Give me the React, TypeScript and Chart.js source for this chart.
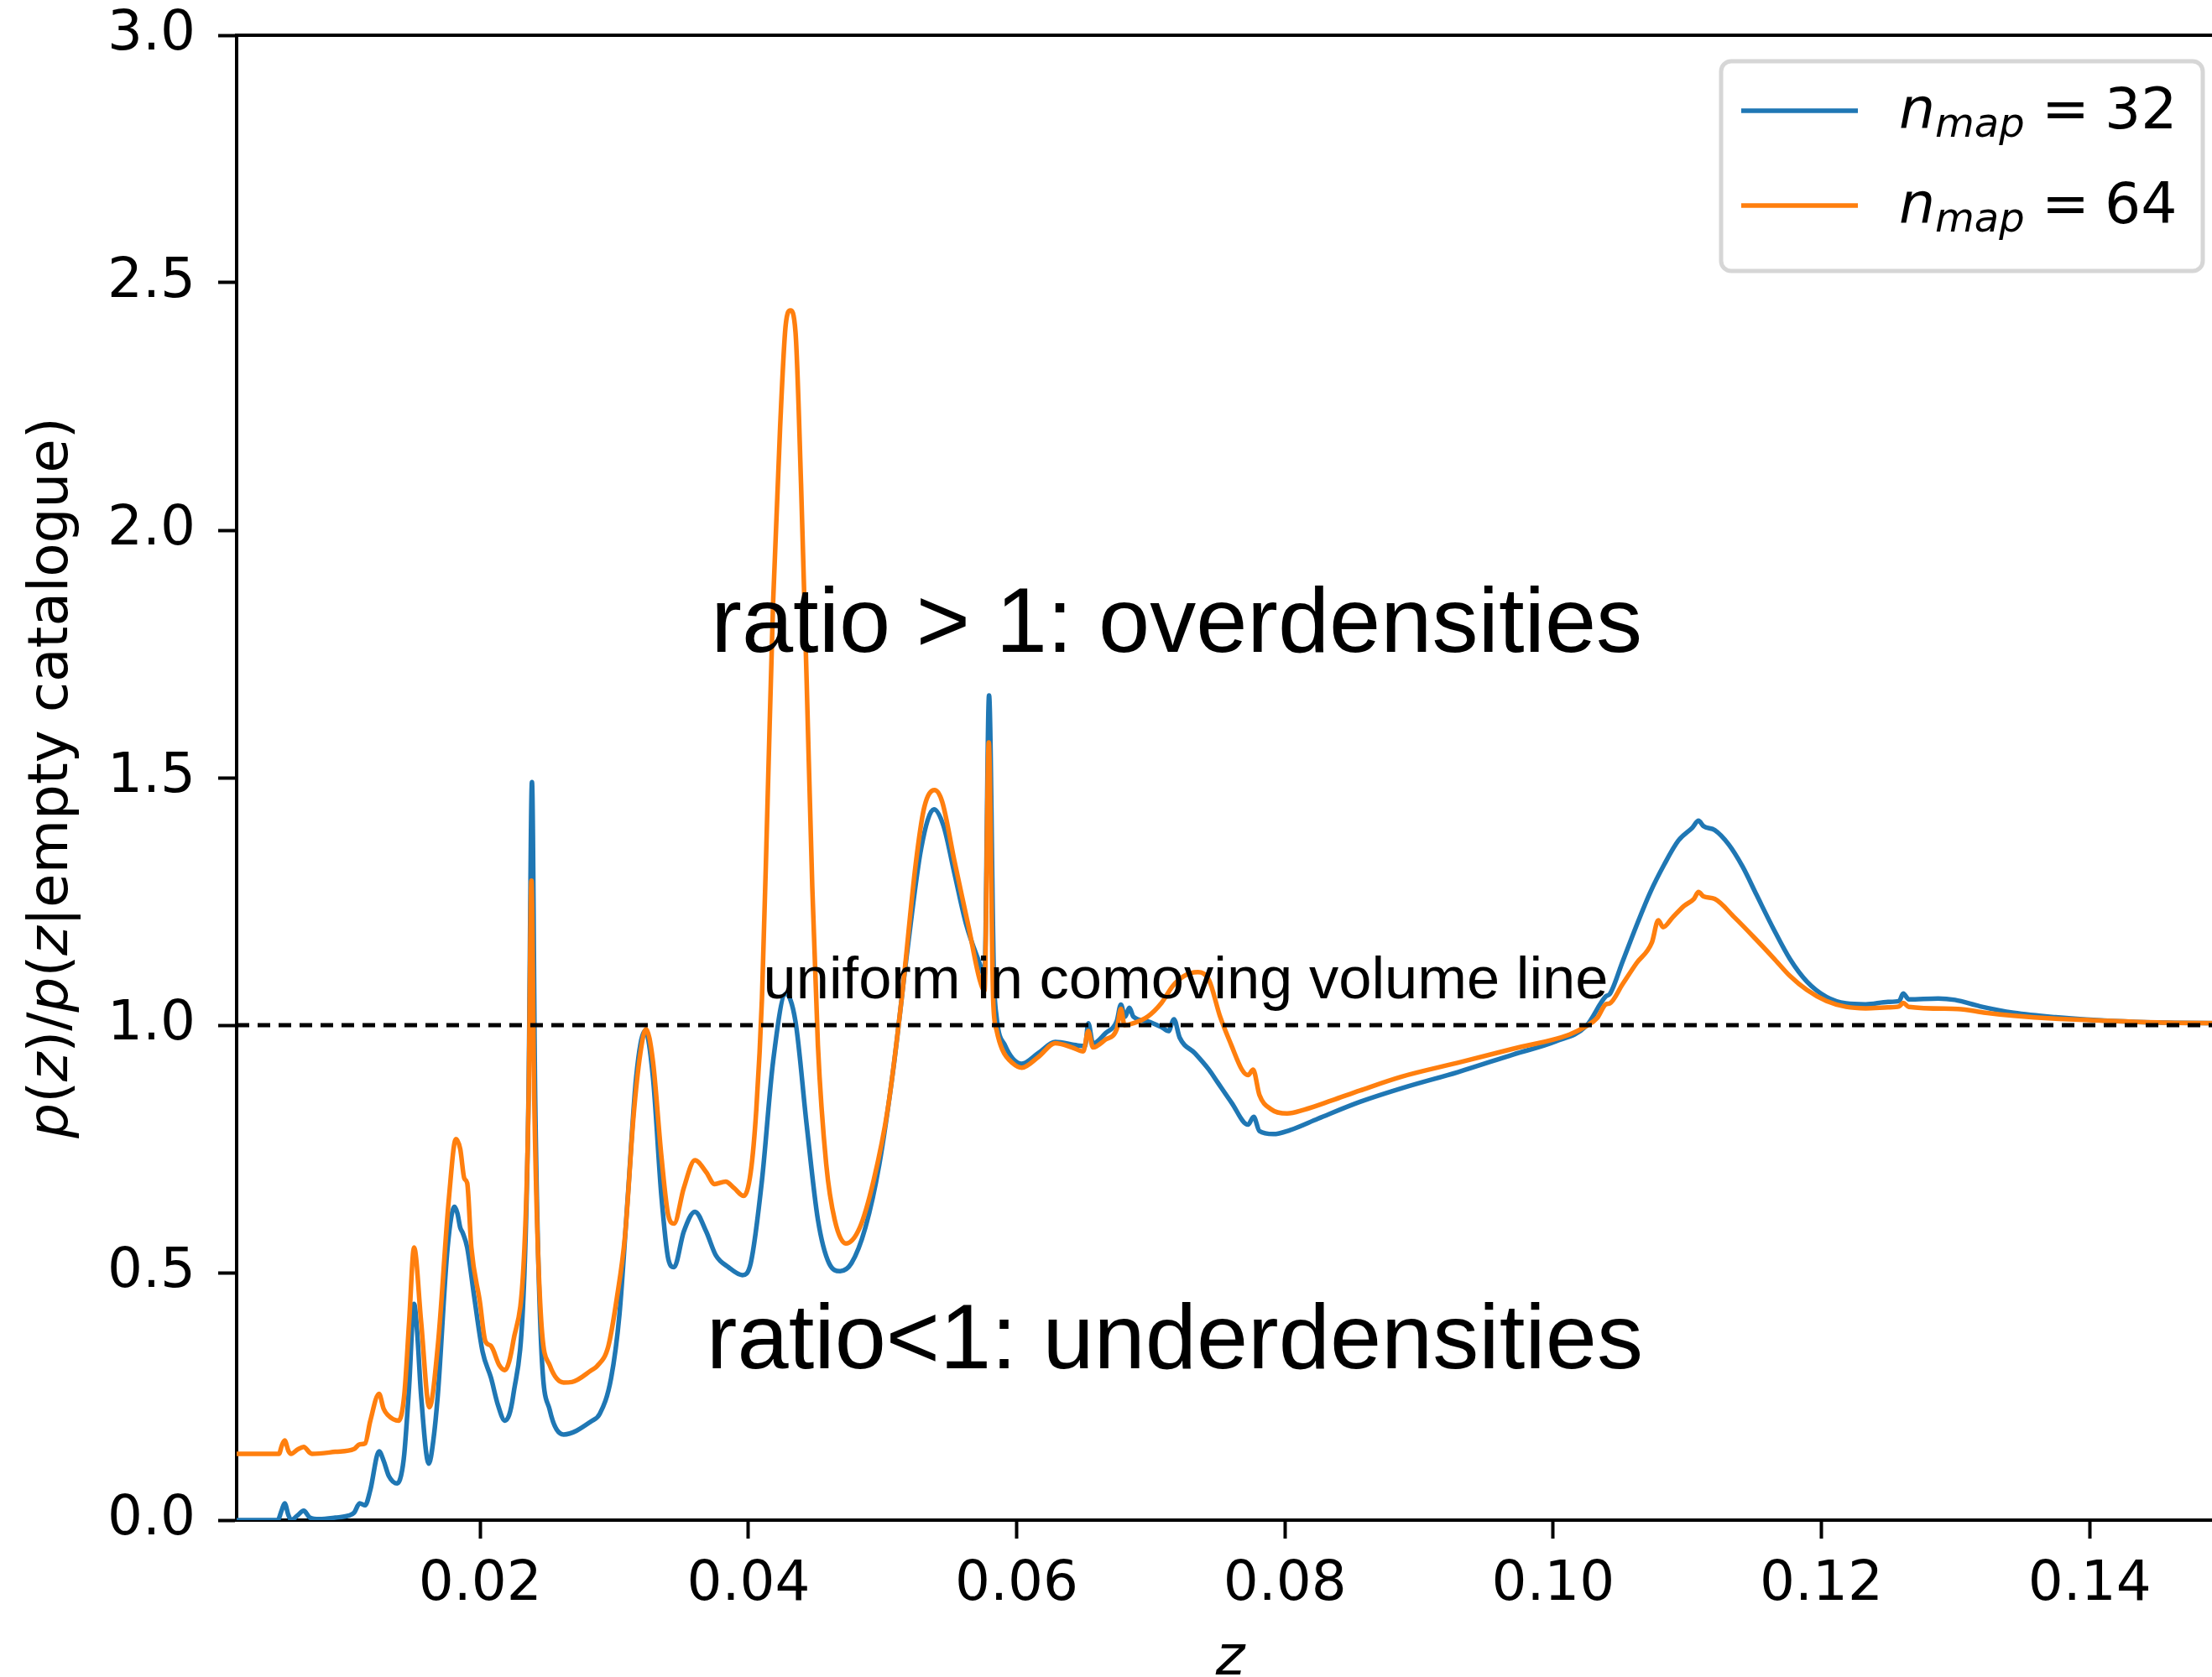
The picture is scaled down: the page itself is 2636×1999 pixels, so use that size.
import React, { useEffect, useRef } from 'react';
import { Chart, registerables } from 'chart.js';

Chart.register(...registerables);

// ---- axis limits and ticks ----
const zMin = 0.00184;
const zMax = 0.15;
const xTickValues = [0.02, 0.04, 0.06, 0.08, 0.1, 0.12, 0.14];
const yTickValues = [0, 0.5, 1.0, 1.5, 2.0, 2.5, 3.0];
const uniformLevel = 1.0;

// ---- series: n_map = 32 (blue) ----
const zBlue = [
  0.00184, 0.0049, 0.0052, 0.00542, 0.0057, 0.0059, 0.0064, 0.00684, 0.0073, 0.008,
  0.0092, 0.01017, 0.0106, 0.01101, 0.01142, 0.0118, 0.01246, 0.0128, 0.01319, 0.01382,
  0.0141, 0.01434, 0.0147, 0.01507, 0.0153, 0.01559, 0.01617, 0.0165, 0.01684, 0.01757,
  0.01809, 0.0183, 0.01851, 0.0187, 0.01903, 0.01955, 0.02018, 0.0208, 0.02132, 0.02184,
  0.02247, 0.0233, 0.0236, 0.02386, 0.0241, 0.02455, 0.02518, 0.02622, 0.0283, 0.02892,
  0.02976, 0.03038, 0.03101, 0.03163, 0.0323, 0.03288, 0.03351, 0.03403, 0.03445, 0.03518,
  0.03601, 0.03685, 0.03757, 0.03851, 0.03955, 0.04017, 0.04101, 0.04184, 0.04278, 0.04351,
  0.04434, 0.04518, 0.04601, 0.04684, 0.04768, 0.04872, 0.04976, 0.0508, 0.05185, 0.05289,
  0.05383, 0.05454, 0.05538, 0.05621, 0.05725, 0.0576, 0.05794, 0.0583, 0.0585, 0.05913,
  0.06038, 0.06163, 0.06288, 0.06454, 0.0651, 0.06534, 0.06569, 0.06663, 0.06746, 0.06777,
  0.06808, 0.0684, 0.06871, 0.06975, 0.0708, 0.07132, 0.07173, 0.07215, 0.0733, 0.07434,
  0.07497, 0.07601, 0.07725, 0.07767, 0.0781, 0.07913, 0.08038, 0.08246, 0.0856, 0.08913,
  0.09288, 0.09705, 0.10017, 0.10246, 0.10392, 0.10423, 0.10517, 0.10621, 0.10725, 0.10829,
  0.10934, 0.11038, 0.11084, 0.11121, 0.11205, 0.11309, 0.11413, 0.11517, 0.11642, 0.11767,
  0.11892, 0.12038, 0.12184, 0.1233, 0.12497, 0.1258, 0.1261, 0.12652, 0.12871, 0.12996,
  0.13184, 0.13434, 0.13746, 0.14163, 0.1458, 0.15,
];
const ratioBlue = [
  0.0, 0.0, 0.02, 0.034, 0.01, 0.0, 0.01, 0.019, 0.005, 0.002,
  0.005, 0.009, 0.015, 0.034, 0.03, 0.06, 0.139, 0.12, 0.089, 0.074,
  0.09, 0.134, 0.27, 0.437, 0.38, 0.253, 0.114, 0.16, 0.253, 0.551,
  0.633, 0.62, 0.591, 0.58, 0.551, 0.452, 0.34, 0.288, 0.233, 0.201,
  0.253, 0.5015, 0.85, 1.491, 0.85, 0.352, 0.223, 0.173, 0.2, 0.215,
  0.287, 0.415, 0.655, 0.895, 0.989, 0.895, 0.655, 0.527, 0.511, 0.583,
  0.623, 0.583, 0.535, 0.511, 0.495, 0.519, 0.687, 0.927, 1.063, 1.007,
  0.799, 0.607, 0.519, 0.503, 0.519, 0.591, 0.719, 0.911, 1.151, 1.359,
  1.436, 1.403, 1.304, 1.206, 1.124, 1.1, 1.666, 1.1, 1.017, 0.959,
  0.922, 0.944, 0.966, 0.959, 0.958, 1.004, 0.963, 0.984, 1.008, 1.0415,
  1.017, 1.035, 1.017, 1.008, 0.996, 0.988, 1.012, 0.975, 0.943, 0.91,
  0.885, 0.844, 0.799, 0.815, 0.786, 0.78, 0.788, 0.811, 0.845, 0.876,
  0.905, 0.941, 0.967, 0.998, 1.058, 1.063, 1.128, 1.201, 1.269, 1.325,
  1.373, 1.399, 1.413, 1.402, 1.394, 1.365, 1.32, 1.263, 1.195, 1.133,
  1.088, 1.057, 1.044, 1.042, 1.047, 1.049, 1.064, 1.052, 1.054, 1.051,
  1.038, 1.025, 1.016, 1.0085, 1.005, 1.004,
];

// ---- series: n_map = 64 (orange) ----
const zOrange = [
  0.00184, 0.005, 0.0052, 0.00542, 0.0057, 0.0059, 0.0064, 0.00684, 0.0073, 0.00746,
  0.0092, 0.01059, 0.01101, 0.01142, 0.0118, 0.01246, 0.0128, 0.01309, 0.01392, 0.01434,
  0.0147, 0.01507, 0.01559, 0.01621, 0.01684, 0.01767, 0.01819, 0.01851, 0.01882, 0.01903,
  0.01934, 0.01997, 0.02038, 0.0208, 0.02143, 0.02184, 0.02247, 0.0233, 0.02361, 0.02382,
  0.02403, 0.02455, 0.02518, 0.02622, 0.02684, 0.0283, 0.02871, 0.02955, 0.03018, 0.0308,
  0.03143, 0.03194, 0.03236, 0.03288, 0.03351, 0.03403, 0.03445, 0.03518, 0.03601, 0.03685,
  0.03747, 0.0383, 0.03893, 0.03965, 0.04017, 0.04059, 0.04101, 0.04143, 0.04184, 0.04236,
  0.04278, 0.04313, 0.04351, 0.04392, 0.04434, 0.04476, 0.04518, 0.0458, 0.04643, 0.04726,
  0.0483, 0.04934, 0.05039, 0.05143, 0.05247, 0.0531, 0.05388, 0.05444, 0.05538, 0.05642,
  0.05725, 0.0576, 0.05792, 0.05825, 0.0585, 0.05892, 0.05975, 0.06038, 0.06163, 0.06288,
  0.06413, 0.06496, 0.06534, 0.06569, 0.06663, 0.06746, 0.06777, 0.06804, 0.06871, 0.06975,
  0.0708, 0.07163, 0.07246, 0.07351, 0.07434, 0.07517, 0.076, 0.0768, 0.07725, 0.07763,
  0.0781, 0.07892, 0.08017, 0.08142, 0.08351, 0.0856, 0.08871, 0.09288, 0.09705, 0.10121,
  0.10246, 0.1033, 0.10392, 0.10423, 0.10517, 0.10621, 0.10736, 0.10784, 0.1082, 0.10892,
  0.10976, 0.11049, 0.11084, 0.11121, 0.11205, 0.11351, 0.11496, 0.11642, 0.11767, 0.11892,
  0.12038, 0.12184, 0.1233, 0.12497, 0.1258, 0.1261, 0.12652, 0.13017, 0.13225, 0.13434,
  0.13746, 0.14163, 0.1458, 0.15,
];
const ratioOrange = [
  0.134, 0.134, 0.15, 0.161, 0.14, 0.134, 0.143, 0.148, 0.136, 0.134,
  0.138, 0.1435, 0.153, 0.155, 0.2, 0.255, 0.225, 0.213, 0.201, 0.253,
  0.4, 0.551, 0.402, 0.228, 0.352, 0.651, 0.77, 0.75, 0.69, 0.681,
  0.551, 0.442, 0.362, 0.352, 0.3126, 0.303, 0.362, 0.551, 0.85, 1.292,
  0.85, 0.402, 0.313, 0.278, 0.279, 0.303, 0.311, 0.351, 0.447, 0.575,
  0.815, 0.943, 0.992, 0.927, 0.735, 0.615, 0.599, 0.671, 0.727, 0.703,
  0.679, 0.684, 0.671, 0.655, 0.703, 0.831, 1.055, 1.455, 1.855, 2.207,
  2.415, 2.444, 2.4, 2.095, 1.695, 1.279, 0.959, 0.719, 0.607, 0.559,
  0.591, 0.687, 0.831, 1.055, 1.325, 1.439, 1.475, 1.452, 1.329, 1.198,
  1.091, 1.07, 1.571, 1.05, 0.99, 0.951, 0.922, 0.914, 0.936, 0.9636,
  0.955, 0.947, 0.988, 0.955, 0.971, 0.992, 1.033, 1.0, 1.004, 1.017,
  1.045, 1.079, 1.099, 1.107, 1.091, 1.017, 0.96, 0.91, 0.899, 0.91,
  0.859, 0.831, 0.8215, 0.829, 0.848, 0.868, 0.896, 0.924, 0.9525, 0.981,
  0.998, 1.015, 1.042, 1.044, 1.0825, 1.125, 1.167, 1.212, 1.198, 1.218,
  1.241, 1.255, 1.269, 1.26, 1.255, 1.218, 1.178, 1.136, 1.099, 1.071,
  1.0486, 1.037, 1.034, 1.036, 1.038, 1.045, 1.037, 1.0328, 1.025, 1.019,
  1.013, 1.0085, 1.005, 1.004,
];

const seriesValues = ['32', '64'];
const seriesColors = ['#1f77b4', '#ff7f0e'];

type Piece = { t: string; italic?: boolean; size?: number; dy?: number };

const DV = '"DejaVu Sans", sans-serif';
const LS = '"Liberation Sans", Arial, Helvetica, sans-serif';

function pieceFont(p: Piece, base: number) {
  return `${p.italic ? 'italic ' : ''}${p.size ?? base}px ${DV}`;
}

function drawPieces(ctx: CanvasRenderingContext2D, pieces: Piece[], x: number, y: number, base: number, center: boolean) {
  let total = 0;
  const widths = pieces.map((p) => {
    ctx.font = pieceFont(p, base);
    const w = ctx.measureText(p.t).width;
    total += w;
    return w;
  });
  let cx = center ? x - total / 2 : x;
  ctx.textAlign = 'left';
  ctx.textBaseline = 'alphabetic';
  pieces.forEach((p, i) => {
    ctx.font = pieceFont(p, base);
    ctx.fillText(p.t, cx, y + (p.dy ?? 0));
    cx += widths[i];
  });
}

const yLabelPieces: Piece[] = [
  { t: 'p', italic: true },
  { t: '(' },
  { t: 'z', italic: true },
  { t: ')/' },
  { t: 'p', italic: true },
  { t: '(' },
  { t: 'z', italic: true },
  { t: '|empty catalogue)' },
];

const annotationTexts = [
  { text: 'ratio > 1: overdensities', z: 0.03721, v: 1.754, size: 110 },
  { text: 'ratio<1: underdensities', z: 0.03687, v: 0.3073, size: 110 },
  { text: 'uniform in comoving volume line', z: 0.0411, v: 1.0534, size: 70.5 },
];

const overlayPlugin = {
  id: 'overlay',
  afterDraw(chart: any) {
    const ctx: CanvasRenderingContext2D = chart.ctx;
    const { left, right, top, bottom } = chart.chartArea;
    const xs = chart.scales.x;
    const ys = chart.scales.y;
    ctx.save();
    // top and right spines
    ctx.strokeStyle = '#000';
    ctx.lineWidth = 4;
    ctx.beginPath();
    ctx.moveTo(left - 2, top);
    ctx.lineTo(right + 2, top);
    ctx.moveTo(right, top);
    ctx.lineTo(right, bottom);
    ctx.stroke();

    // annotations
    ctx.fillStyle = '#000';
    ctx.textAlign = 'left';
    ctx.textBaseline = 'alphabetic';
    for (const a of annotationTexts) {
      ctx.font = `${a.size}px ${LS}`;
      ctx.fillText(a.text, xs.getPixelForValue(a.z), ys.getPixelForValue(a.v));
    }

    // y label (rotated)
    ctx.save();
    ctx.translate(80, (top + bottom) / 2);
    ctx.rotate(-Math.PI / 2);
    drawPieces(ctx, yLabelPieces, 0, 0, 66, true);
    ctx.restore();

    // x label
    drawPieces(ctx, [{ t: 'z', italic: true }], (left + right) / 2, 1996, 66, true);

    // legend
    const bx1 = right - 25;
    const bx0 = bx1 - 574;
    const by0 = top + 31;
    const by1 = by0 + 250;
    const r = 12;
    ctx.beginPath();
    ctx.moveTo(bx0 + r, by0);
    ctx.lineTo(bx1 - r, by0);
    ctx.arcTo(bx1, by0, bx1, by0 + r, r);
    ctx.lineTo(bx1, by1 - r);
    ctx.arcTo(bx1, by1, bx1 - r, by1, r);
    ctx.lineTo(bx0 + r, by1);
    ctx.arcTo(bx0, by1, bx0, by1 - r, r);
    ctx.lineTo(bx0, by0 + r);
    ctx.arcTo(bx0, by0, bx0 + r, by0, r);
    ctx.closePath();
    ctx.fillStyle = 'rgba(255,255,255,0.85)';
    ctx.fill();
    ctx.strokeStyle = '#d6d6d6';
    ctx.lineWidth = 5;
    ctx.stroke();

    seriesValues.forEach((val, i) => {
      const ly = by0 + 59 + i * 113;
      ctx.strokeStyle = seriesColors[i];
      ctx.lineWidth = 5.5;
      ctx.beginPath();
      ctx.moveTo(bx0 + 24, ly);
      ctx.lineTo(bx0 + 163, ly);
      ctx.stroke();
      const base = by0 + 80 + i * 113;
      ctx.fillStyle = '#000';
      drawPieces(ctx, [{ t: 'n', italic: true }], bx0 + 212, base, 68, false);
      drawPieces(ctx, [{ t: 'map', italic: true, size: 48 }], bx0 + 255, base + 10, 68, false);
      drawPieces(ctx, [{ t: '=' }], bx0 + 382, base, 68, false);
      drawPieces(ctx, [{ t: val }], bx0 + 457, base, 68, false);
    });
    ctx.restore();
  },
};

export default function App() {
  const canvasRef = useRef<HTMLCanvasElement | null>(null);

  useEffect(() => {
    const canvas = canvasRef.current;
    if (!canvas) return;
    const toPoints = (xs: number[], ys: number[]) => xs.map((x, i) => ({ x, y: ys[i] }));
    const chart = new Chart(canvas, {
      type: 'line',
      data: {
        datasets: [
          {
            label: 'n_map = 32',
            data: toPoints(zBlue, ratioBlue),
            borderColor: seriesColors[0],
            backgroundColor: seriesColors[0],
            borderWidth: 5.5,
            pointRadius: 0,
            fill: false,
            cubicInterpolationMode: 'monotone',
            order: 2,
          },
          {
            label: 'n_map = 64',
            data: toPoints(zOrange, ratioOrange),
            borderColor: seriesColors[1],
            backgroundColor: seriesColors[1],
            borderWidth: 5.5,
            pointRadius: 0,
            fill: false,
            cubicInterpolationMode: 'monotone',
            order: 1,
          },
          {
            label: 'uniform',
            data: [
              { x: zMin, y: uniformLevel },
              { x: zMax, y: uniformLevel },
            ],
            borderColor: '#000',
            borderWidth: 5,
            borderDash: [15, 10],
            pointRadius: 0,
            fill: false,
            order: 0,
          },
        ],
      } as any,
      options: {
        responsive: false,
        animation: false,
        events: [],
        layout: { padding: { left: 0, top: 42, right: 10, bottom: 0 } },
        plugins: {
          legend: { display: false },
          tooltip: { enabled: false },
          title: { display: false },
        },
        scales: {
          x: {
            type: 'linear',
            min: zMin,
            max: zMax,
            z: 1,
            afterBuildTicks: (s: any) => {
              s.ticks = xTickValues.map((v) => ({ value: v }));
            },
            afterFit: (s: any) => {
              s.height = 187;
              s.paddingLeft = 0;
              s.paddingRight = 0;
            },
            grid: {
              drawOnChartArea: false,
              drawTicks: true,
              tickLength: 22,
              tickWidth: 4,
              tickColor: '#000',
            },
            border: { display: true, color: '#000', width: 4 },
            ticks: {
              color: '#000',
              font: { family: 'DejaVu Sans', size: 66 },
              padding: 16,
              maxRotation: 0,
              autoSkip: false,
              callback: (v: any) => Number(v).toFixed(2),
            },
          },
          y: {
            type: 'linear',
            min: 0,
            max: 3,
            z: 1,
            afterBuildTicks: (s: any) => {
              s.ticks = yTickValues.map((v) => ({ value: v }));
            },
            afterFit: (s: any) => {
              s.width = 282;
              s.paddingTop = 0;
              s.paddingBottom = 0;
            },
            grid: {
              drawOnChartArea: false,
              drawTicks: true,
              tickLength: 22,
              tickWidth: 4,
              tickColor: '#000',
            },
            border: { display: true, color: '#000', width: 4 },
            ticks: {
              color: '#000',
              font: { family: 'DejaVu Sans', size: 66 },
              padding: 27,
              autoSkip: false,
              callback: (v: any) => Number(v).toFixed(1),
            },
          },
        },
      } as any,
      plugins: [overlayPlugin],
    });
    return () => chart.destroy();
  }, []);

  return (
    <div
      style={{
        position: 'fixed',
        left: 0,
        top: 0,
        width: 2636,
        height: 1999,
        overflow: 'hidden',
        background: '#fff',
      }}
    >
      <canvas ref={canvasRef} width={2660} height={1999} style={{ width: 2660, height: 1999, display: 'block' }} />
    </div>
  );
}
